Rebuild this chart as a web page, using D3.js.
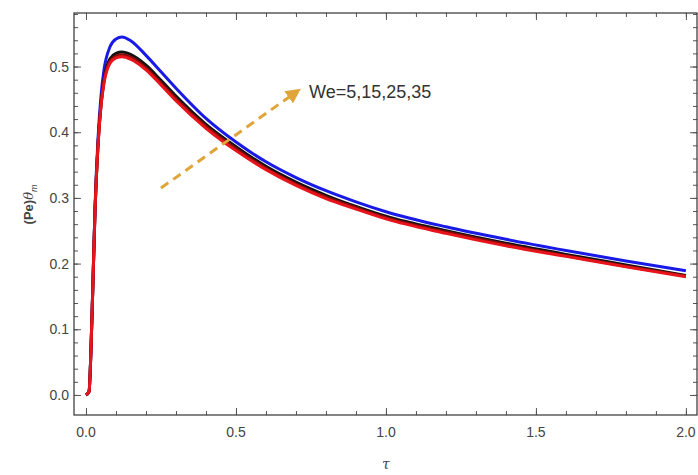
<!DOCTYPE html>
<html>
<head>
<meta charset="utf-8">
<script src="https://cdn.jsdelivr.net/npm/d3@7"></script>
<style>
  body { margin: 0; background: white; }
  svg { display: block; }
</style>
</head>
<body>
<div class="chart"></div>
<script>
// Data
const tau = [0, 0.01, 0.02, 0.03, 0.04, 0.05, 0.06, 0.08, 0.10, 0.12, 0.15, 0.2, 0.25, 0.3, 0.4, 0.5, 0.6, 0.7, 0.8, 0.9, 1.0, 1.2, 1.4, 1.6, 1.8, 2.0];
const we5  = [0, 0.005, 0.12, 0.28, 0.38, 0.44, 0.475, 0.505, 0.513, 0.515, 0.511, 0.495, 0.472, 0.448, 0.406, 0.372, 0.343, 0.319, 0.299, 0.283, 0.268, 0.246, 0.227, 0.211, 0.195, 0.180];
const we15 = [0, 0.005, 0.12, 0.28, 0.38, 0.441, 0.477, 0.508, 0.516, 0.518, 0.514, 0.498, 0.475, 0.451, 0.409, 0.375, 0.345, 0.321, 0.301, 0.285, 0.270, 0.248, 0.229, 0.212, 0.196, 0.181];
const we25 = [0, 0.005, 0.12, 0.28, 0.381, 0.443, 0.480, 0.512, 0.520, 0.522, 0.518, 0.502, 0.479, 0.455, 0.412, 0.378, 0.348, 0.324, 0.304, 0.287, 0.272, 0.250, 0.231, 0.214, 0.198, 0.182];
const we35 = [0, 0.005, 0.12, 0.285, 0.39, 0.455, 0.495, 0.530, 0.542, 0.545, 0.539, 0.517, 0.492, 0.467, 0.421, 0.385, 0.355, 0.331, 0.311, 0.294, 0.279, 0.256, 0.237, 0.220, 0.204, 0.189];
const seriesColors = ["#e8141b", "#8a0a0a", "#111111", "#1a1ae6"];
const xTicks = [0, 0.5, 1, 1.5, 2];
const yTicks = [0, 0.1, 0.2, 0.3, 0.4, 0.5];

const width = 698, height = 475;
const margin = { top: 13, right: 1, bottom: 60, left: 74 };

const svg = d3.select(".chart").append("svg")
  .attr("width", width)
  .attr("height", height)
  .style("font-family", "Arial, Liberation Sans, sans-serif");

const x = d3.scaleLinear().domain([-0.04, 2.037]).range([margin.left, width - margin.right]);
const y = d3.scaleLinear().domain([-0.0305, 0.5815]).range([height - margin.bottom, margin.top]);

// draw blue first so red ends on top
const series = [
  { color: seriesColors[3], vals: we35 },
  { color: seriesColors[2], vals: we25 },
  { color: seriesColors[1], vals: we15 },
  { color: seriesColors[0], vals: we5 }
].map(s => ({ color: s.color, points: tau.map((t, j) => [t, s.vals[j]]) }));

// Curves
const line = d3.line()
  .x(d => x(d[0]))
  .y(d => y(d[1]))
  .curve(d3.curveMonotoneX);

svg.append("g")
  .selectAll("path")
  .data(series)
  .join("path")
  .attr("d", d => line(d.points))
  .attr("fill", "none")
  .attr("stroke", d => d.color)
  .attr("stroke-width", 3);

// Frame with ticks on all four sides
const frameColor = "#555";
const minorX = d3.range(0, 2.01, 0.1);
const minorY = d3.range(0, 0.581, 0.02);

const x0 = margin.left, x1 = width - margin.right;
const y0 = height - margin.bottom, y1 = margin.top;

svg.append("g").attr("transform", `translate(0,${y0})`)
  .call(d3.axisTop(x).tickValues(minorX).tickSize(4).tickFormat(""));
svg.append("g").attr("transform", `translate(0,${y0})`)
  .call(d3.axisTop(x).tickValues(xTicks).tickSize(7).tickFormat(""));
svg.append("g").attr("transform", `translate(0,${y1})`)
  .call(d3.axisBottom(x).tickValues(minorX).tickSize(4).tickFormat(""));
svg.append("g").attr("transform", `translate(0,${y1})`)
  .call(d3.axisBottom(x).tickValues(xTicks).tickSize(7).tickFormat(""));
svg.append("g").attr("transform", `translate(${x0},0)`)
  .call(d3.axisRight(y).tickValues(minorY).tickSize(4).tickFormat(""));
svg.append("g").attr("transform", `translate(${x0},0)`)
  .call(d3.axisRight(y).tickValues(yTicks).tickSize(7).tickFormat(""));
svg.append("g").attr("transform", `translate(${x1},0)`)
  .call(d3.axisLeft(y).tickValues(minorY).tickSize(4).tickFormat(""));
svg.append("g").attr("transform", `translate(${x1},0)`)
  .call(d3.axisLeft(y).tickValues(yTicks).tickSize(7).tickFormat(""));

svg.selectAll(".domain").remove();
svg.selectAll(".tick line").attr("stroke", frameColor).attr("stroke-width", 1);

svg.append("rect")
  .attr("x", x0)
  .attr("y", y1)
  .attr("width", x1 - x0)
  .attr("height", y0 - y1)
  .attr("fill", "none")
  .attr("stroke", "#333")
  .attr("stroke-width", 1.2);

// Tick labels
svg.append("g")
  .selectAll("text")
  .data(xTicks)
  .join("text")
  .attr("x", d => x(d))
  .attr("y", y0 + 22)
  .attr("text-anchor", "middle")
  .attr("fill", "#444")
  .style("font-size", "14px")
  .text(d => d.toFixed(1));

svg.append("g")
  .selectAll("text")
  .data(yTicks)
  .join("text")
  .attr("x", x0 - 5)
  .attr("y", d => y(d) + 5)
  .attr("text-anchor", "end")
  .attr("fill", "#444")
  .style("font-size", "14px")
  .text(d => d.toFixed(1));

// Axis labels
svg.append("text")
  .attr("x", x(1))
  .attr("y", 469)
  .attr("text-anchor", "middle")
  .attr("fill", "#444")
  .style("font-size", "14px")
  .style("font-family", "DejaVu Serif, serif")
  .style("font-style", "italic")
  .text("τ");

const yLabel = svg.append("text")
  .attr("transform", `translate(33, ${y(0.29)}) rotate(-90)`)
  .attr("text-anchor", "middle")
  .attr("fill", "#444")
  .style("font-size", "13px");
yLabel.append("tspan").style("font-weight", "bold").text("(Pe)");
yLabel.append("tspan").style("font-style", "italic").style("font-family", "DejaVu Serif, serif").text("θ");
yLabel.append("tspan").attr("dy", 4).style("font-size", "9px").style("font-style", "italic").text("m");

// Annotation arrow and text
const arrowColor = "#e0a53a";
svg.append("defs").append("marker")
  .attr("id", "head")
  .attr("viewBox", "0 0 10 10")
  .attr("refX", 6)
  .attr("refY", 5)
  .attr("markerWidth", 5)
  .attr("markerHeight", 5)
  .attr("orient", "auto")
  .append("path")
  .attr("d", "M0,0 L10,5 L0,10 Z")
  .attr("fill", arrowColor);

svg.append("line")
  .attr("x1", x(0.25))
  .attr("y1", y(0.315))
  .attr("x2", x(0.7))
  .attr("y2", y(0.461))
  .attr("stroke", arrowColor)
  .attr("stroke-width", 3)
  .attr("stroke-dasharray", "9,6")
  .attr("marker-end", "url(#head)");

svg.append("text")
  .attr("x", 309)
  .attr("y", 98)
  .attr("fill", "#333")
  .style("font-size", "18px")
  .text("We=5,15,25,35");
</script>
</body>
</html>
